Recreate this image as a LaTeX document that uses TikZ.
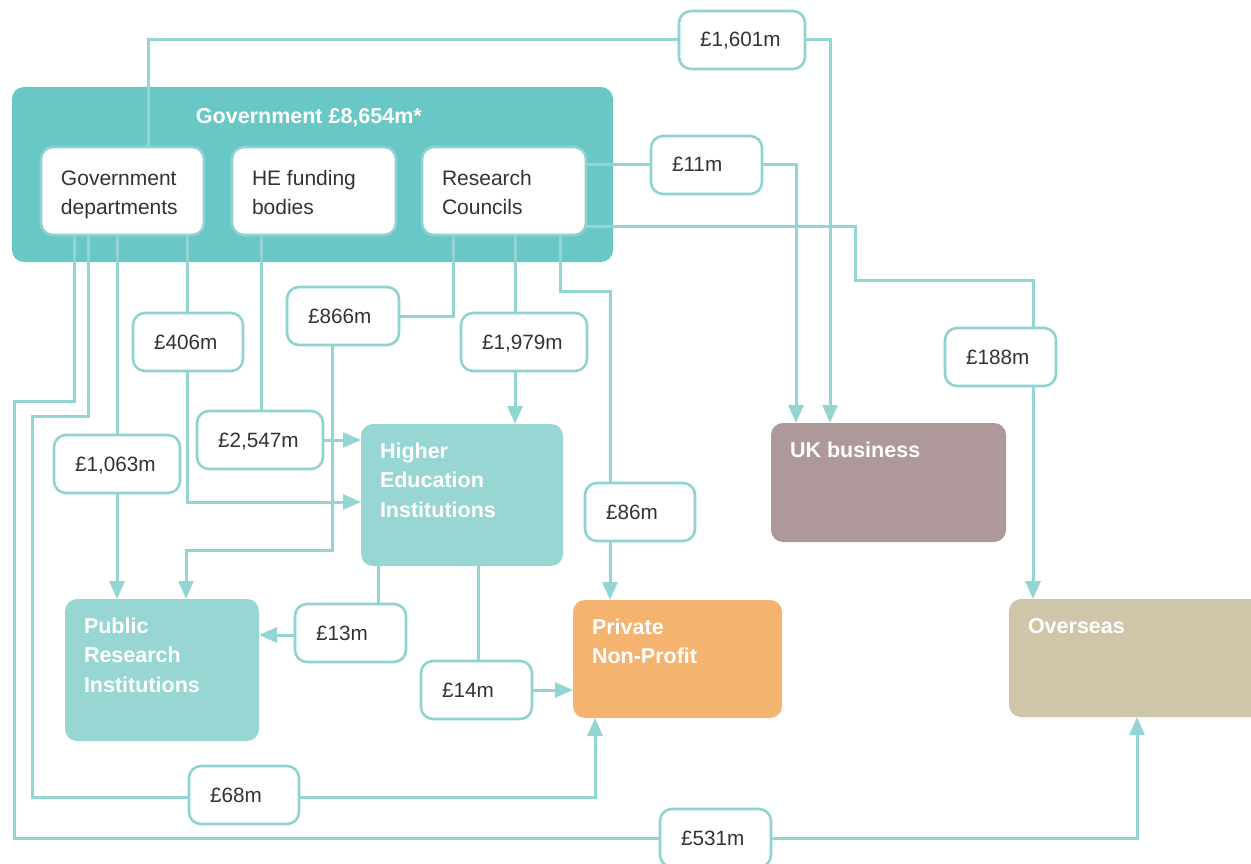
\documentclass[tikz,border=0pt]{standalone}
\usepackage{fontspec}
\setmainfont{Liberation Sans}
\usetikzlibrary{arrows.meta}
\definecolor{govc}{HTML}{69C7C5}
\definecolor{lnc}{HTML}{93D5D3}
\definecolor{bdc}{HTML}{8ED3D0}
\definecolor{heic}{HTML}{98D6D4}
\definecolor{pnpc}{HTML}{F4B36F}
\definecolor{ukbc}{HTML}{AE9899}
\definecolor{ovsc}{HTML}{CFC5A8}
\definecolor{txtc}{HTML}{333333}
\newcommand\bxt[5]{\parbox[c][#2][t]{#1}{\raggedright\leftskip=#3\relax\rule{0pt}{#4}#5}}
\newcommand\lab[2]{\bxt{#1}{58pt}{21pt}{36pt}{#2}}
\newcommand\cbx[3]{\bxt{#1}{#2}{19pt}{34pt}{#3}}
\tikzset{
  base/.style={inner sep=0pt, outer sep=0pt, anchor=north west, font=\fontsize{20.7}{29.5}\selectfont},
  lbl/.style={base, draw=bdc, line width=2.6pt, fill=white, rounded corners=12pt, text=txtc},
  unit/.style={base, draw=bdc, line width=2.6pt, fill=white, rounded corners=12pt, text=txtc, font=\fontsize{21}{29.5}\selectfont},
  govbox/.style={base, fill=govc, rounded corners=12pt, text=white, font=\fontsize{21.5}{29.5}\selectfont\bfseries},
  sector/.style={base, fill=#1, rounded corners=12pt, text=white, font=\fontsize{21.5}{29.5}\selectfont\bfseries},
  ln/.style={draw=lnc, line width=3pt},
  arr/.style={ln, -{Triangle[length=18pt,width=15pt]}},
}
\begin{document}
\begin{tikzpicture}[x=1pt,y=-1pt]
\useasboundingbox (0,0) rectangle (1251,864);
\fill[white] (0,0) rectangle (1251,864);
\clip (0,0) rectangle (1251,864);

% Government box
\node[govbox] (gov) at (12,87) {\bxt{601pt}{175pt}{184pt}{37pt}{Government £8,654m*}};
\node[unit] (gd) at (41,147) {\bxt{163pt}{88pt}{20pt}{38pt}{Government\\departments}};
\node[unit] (he) at (232,147) {\bxt{164pt}{88pt}{20pt}{38pt}{HE funding\\bodies}};
\node[unit] (rc) at (422,147) {\bxt{164pt}{88pt}{20pt}{38pt}{Research\\Councils}};

% sectors
\node[sector=heic] (hei) at (361,424) {\cbx{202pt}{142pt}{Higher\\Education\\Institutions}};
\node[sector=heic] (pri) at (65,599) {\cbx{194pt}{142pt}{Public\\Research\\Institutions}};
\node[sector=pnpc] (pnp) at (573,600) {\cbx{209pt}{118pt}{Private\\Non-Profit}};
\node[sector=ukbc] (ukb) at (771,423) {\cbx{235pt}{119pt}{UK business}};
\node[sector=ovsc] (ovs) at (1009,599) {\cbx{260pt}{118pt}{Overseas}};

% labels
\node[lbl] (l1601) at (679,11) {\lab{126pt}{£1,601m}};
\node[lbl] (l11) at (651,136) {\lab{111pt}{£11m}};
\node[lbl] (l866) at (287,287) {\lab{112pt}{£866m}};
\node[lbl] (l406) at (133,313) {\lab{110pt}{£406m}};
\node[lbl] (l1979) at (461,313) {\lab{126pt}{£1,979m}};
\node[lbl] (l188) at (945,328) {\lab{111pt}{£188m}};
\node[lbl] (l2547) at (197,411) {\lab{126pt}{£2,547m}};
\node[lbl] (l1063) at (54,435) {\lab{126pt}{£1,063m}};
\node[lbl] (l86) at (585,483) {\lab{110pt}{£86m}};
\node[lbl] (l13) at (295,604) {\lab{111pt}{£13m}};
\node[lbl] (l14) at (421,661) {\lab{111pt}{£14m}};
\node[lbl] (l68) at (189,766) {\lab{110pt}{£68m}};
\node[lbl] (l531) at (660,809) {\lab{111pt}{£531m}};

% Government departments
\draw[ln] (gd.north -| 148,0) |- (l1601.west);
\draw[arr] (l1601.east) -| (ukb.north -| 830,0);
\draw[ln] (gd.south -| 187,0) -- (l406.north -| 187,0);
\draw[arr] (l406.south -| 187,0) |- (hei.west |- 0,502);
\draw[ln] (gd.south -| 117,0) -- (l1063.north -| 117,0);
\draw[arr] (l1063.south -| 117,0) -- (pri.north -| 117,0);
\draw[ln] (gd.south -| 88,0) -- (88,416) -- (32,416) |- (l68.west |- 0,797);
\draw[arr] (l68.east |- 0,797) -| (pnp.south -| 595,0);
\draw[ln] (gd.south -| 74,0) -- (74,401) -- (14,401) |- (l531.west);
\draw[arr] (l531.east) -| (ovs.south -| 1137,0);

% HE funding bodies
\draw[ln] (he.south -| 261,0) -- (l2547.north -| 261,0);
\draw[arr] (l2547.east) -- (hei.west |- l2547.east);

% Research Councils
\draw[ln] (rc.east |- l11.west) -- (l11.west);
\draw[arr] (l11.east) -| (ukb.north -| 796,0);
\draw[ln] (rc.east |- 0,226) -| (855,280) -| (l188.north -| 1033,0);
\draw[arr] (l188.south -| 1033,0) -- (ovs.north -| 1033,0);
\draw[ln] (rc.south -| 453,0) |- (l866.east |- 0,316);
\draw[arr] (l866.south -| 332,0) |- (186,550) -- (pri.north -| 186,0);
\draw[ln] (rc.south -| 515,0) -- (l1979.north -| 515,0);
\draw[arr] (l1979.south -| 515,0) -- (hei.north -| 515,0);
\draw[ln] (rc.south -| 560,0) |- (610,291) -- (l86.north -| 610,0);
\draw[arr] (l86.south -| 610,0) -- (pnp.north -| 610,0);

% Higher Education Institutions
\draw[ln] (hei.south -| 378,0) -- (l13.north -| 378,0);
\draw[arr] (l13.west |- 0,635) -- (pri.east |- 0,635);
\draw[ln] (hei.south -| 478,0) -- (l14.north -| 478,0);
\draw[arr] (l14.east) -- (pnp.west |- l14.east);
\end{tikzpicture}
\end{document}
